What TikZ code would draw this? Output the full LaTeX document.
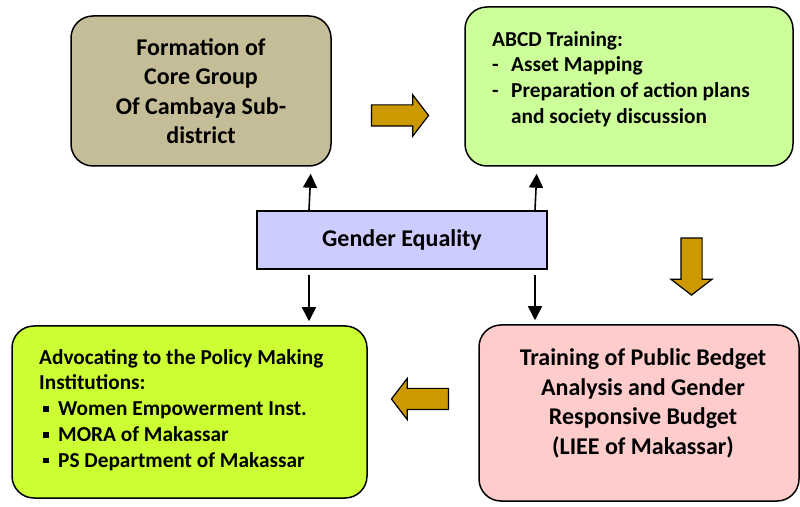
\documentclass[tikz,border=0pt]{standalone}
\usepackage{fontspec}
\setmainfont{Carlito}
\usetikzlibrary{arrows.meta,shapes.arrows}

\definecolor{coretan}{HTML}{C4BD97}
\definecolor{abcdgreen}{HTML}{CCFF99}
\definecolor{genderblue}{HTML}{CCCCFF}
\definecolor{advolime}{HTML}{CCFF33}
\definecolor{budgetpink}{HTML}{FFCCCC}
\definecolor{flowgold}{HTML}{CC9900}

% list markers with a hanging indent
\newcommand{\DashItem}{\makebox[19pt][l]{-}}
\newcommand{\SqItem}{\makebox[19pt][l]{\hspace{4pt}\rule[4pt]{5.5pt}{5.5pt}}}

\begin{document}
\begin{tikzpicture}[x=1pt,y=1pt]
	\useasboundingbox (0,0) rectangle (800,506);
	\tikzset{Stage/.style = {draw, line width=1.5pt, rounded corners=22pt, inner sep=0pt},
		StageText/.style = {font=\fontsize{24}{29.5}\selectfont\bfseries, align=center, inner sep=0pt},
		ListText/.style = {font=\fontsize{21.3}{25.8}\selectfont\bfseries, align=left, inner sep=0pt, anchor=north west},
		Flow/.style = {single arrow, draw, line width=1.2pt, fill=flowgold, inner xsep=0pt, inner ysep=10pt,
			single arrow head extend=10pt, single arrow tip angle=105, minimum height=57pt},
		Link/.style = {-{Triangle[length=14pt,width=14pt]}, line width=1.6pt}}
	% stages
	\node[Stage, StageText, fill=coretan, minimum width=260pt, minimum height=150pt] (core) at (201,415)
		{Formation of\\Core Group\\Of Cambaya Sub-\\district};
	\node[Stage, fill=abcdgreen, minimum width=328pt, minimum height=159pt] (abcd) at (629,419.5) {};
	\node[ListText] (abcd text) at (492,475)
		{ABCD Training:\\\DashItem Asset Mapping\\\DashItem Preparation of action plans\\\hspace*{19pt}and society discussion};
	\node[Stage, fill=budgetpink, minimum width=320pt, minimum height=176pt] (budget) at (639,93) {};
	\node[StageText] (budget text) at ([xshift=4pt,yshift=9.5pt]budget.center)
		{Training of Public Bedget\\Analysis and Gender\\Responsive Budget\\(LIEE of Makassar)};
	\node[Stage, fill=advolime, minimum width=355pt, minimum height=172pt] (advocacy) at (189.5,94) {};
	\node[ListText] (advocacy text) at (39,157)
		{Advocating to the Policy Making\\Institutions:\\\SqItem Women Empowerment Inst.\\\SqItem MORA of Makassar\\\SqItem PS Department of Makassar};
	% centre
	\node[draw, line width=1.5pt, StageText, fill=genderblue, minimum width=290pt, minimum height=58pt] (gender) at (402,266)
		{Gender Equality};
	% flow between stages
	\node[Flow] (flow1) at (396,390.5) {};
	\node[Flow, rotate=-90] (flow2) at (691.5,243.5) {};
	\node[Flow, rotate=180] (flow3) at (424,107) {};
	% links from the centre
	\draw[Link, shorten >=7pt] ([xshift=-93pt]gender.north) -- ([xshift=110pt]core.south);
	\draw[Link, shorten >=7pt] ([xshift=133pt]gender.north) -- ([xshift=-92pt]abcd.south);
	\draw[Link, shorten <=5pt, shorten >=4pt] ([xshift=-93pt]gender.south) -- ([xshift=119.5pt]advocacy.north);
	\draw[Link, shorten <=5pt, shorten >=4pt] ([xshift=133pt]gender.south) -- ([xshift=-104pt]budget.north);
\end{tikzpicture}
\end{document}
